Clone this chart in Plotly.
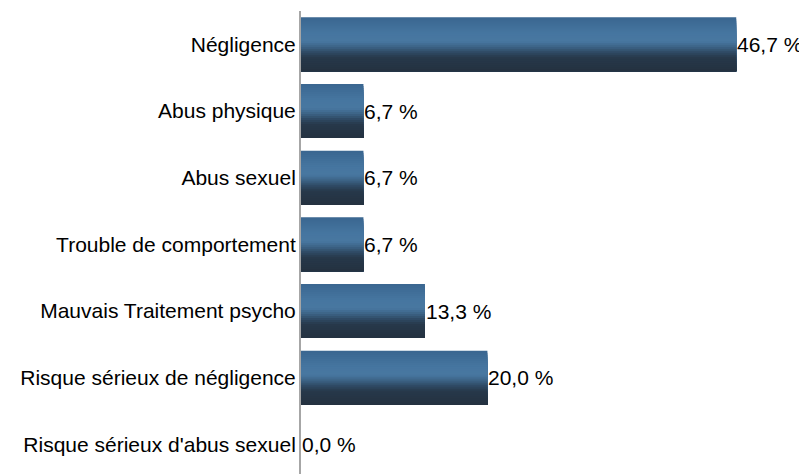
import plotly.graph_objects as go

categories = [
    "Négligence",
    "Abus physique",
    "Abus sexuel",
    "Trouble de comportement",
    "Mauvais Traitement psycho",
    "Risque sérieux de négligence",
    "Risque sérieux d'abus sexuel",
]
values = [46.7, 6.7, 6.7, 6.7, 13.3, 20.0, 0.0]
value_labels = [f"{v:.1f}".replace(".", ",") + " %" for v in values]

# vertical gradient of the bars (fraction from top, rgb)
stops = [
    (0.00, (58, 102, 144)),
    (0.30, (70, 118, 160)),
    (0.45, (72, 119, 160)),
    (0.55, (60, 99, 134)),
    (0.65, (47, 74, 100)),
    (0.75, (39, 56, 74)),
    (1.00, (36, 50, 64)),
]


def grad(t):
    for (t0, c0), (t1, c1) in zip(stops[:-1], stops[1:]):
        if t0 <= t <= t1:
            f = (t - t0) / (t1 - t0) if t1 > t0 else 0
            c = [round(a + (b - a) * f) for a, b in zip(c0, c1)]
            return f"rgb({c[0]},{c[1]},{c[2]})"
    c = stops[-1][1]
    return f"rgb({c[0]},{c[1]},{c[2]})"


FONT = "Liberation Sans, Arial, sans-serif"
FS = 21
fig = go.Figure()
n = 27
bar_w = 0.81
band = bar_w / n
for i in range(n):
    fig.add_trace(go.Bar(
        x=values, y=categories, orientation="h",
        width=bar_w - i * band,
        offset=-bar_w / 2 + i * band,
        marker=dict(color=grad((i + 0.5) / n), line=dict(width=0)),
        hoverinfo="skip", showlegend=False,
    ))

for cat, v, lab in zip(categories, values, value_labels):
    fig.add_annotation(x=v, y=cat, text=lab, xanchor="left", yanchor="middle",
                       showarrow=False, xshift=-1,
                       font=dict(family=FONT, size=FS, color="black"))

fig.update_layout(
    width=807, height=474,
    margin=dict(l=293, r=48, t=3, b=8),
    barmode="overlay",
    paper_bgcolor="white", plot_bgcolor="white",
    xaxis=dict(range=[0, 50], visible=False, automargin=False),
    yaxis=dict(
        categoryorder="array", categoryarray=categories,
        range=[6.445, -0.5], automargin=False,
        showline=True, linecolor="#a6a6a6", linewidth=2,
        ticks="", showgrid=False, zeroline=False,
        tickfont=dict(family=FONT, size=FS, color="black"),
        ticklabelstandoff=-1,
    ),
)

fig.write_html("out.html")
